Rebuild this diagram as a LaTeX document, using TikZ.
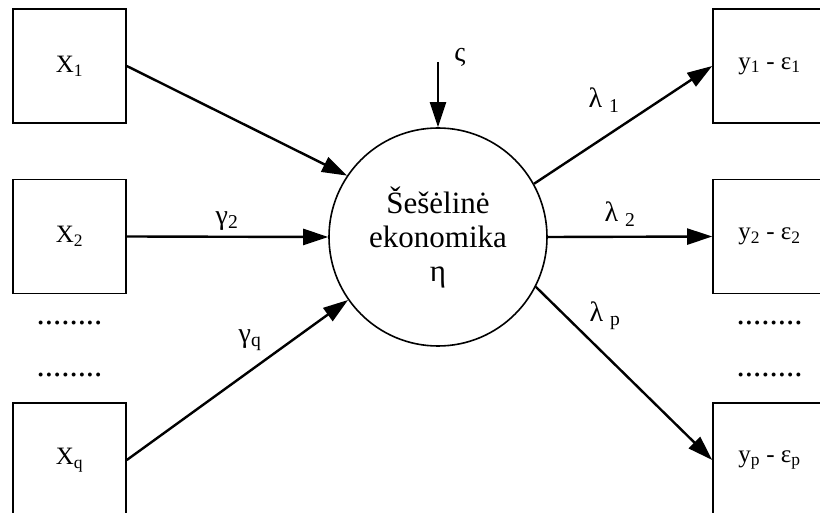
\documentclass[tikz,border=0pt]{standalone}
\usepackage{fontspec}
\setmainfont{Liberation Serif}
\usetikzlibrary{arrows.meta}

\begin{document}
\begin{tikzpicture}[x=1pt,y=-1pt,
  varbox/.style={draw, line width=1.6pt, minimum width=113pt, minimum height=114pt, inner sep=0pt, font=\fontsize{25}{28}\selectfont},
  effect/.style={-{Triangle[length=25pt,width=16pt]}, line width=2.4pt},
  coef/.style={font=\fontsize{28}{30}\selectfont, inner sep=0pt},
  gap/.style={font=\fontsize{33}{36}\selectfont, inner sep=0pt, anchor=base}]
\useasboundingbox (0,0) rectangle (820,513);
\node[varbox] (x1) at (69.5,66) {X\textsubscript{1}};
\node[varbox] (x2) at (69.5,236.5) {X\textsubscript{2}};
\node[varbox] (xq) at (69.5,460) {X\textsubscript{q}};
\node[varbox] (y1) at (769.5,66) {y\textsubscript{1} - ε\textsubscript{1}};
\node[varbox] (y2) at (769.5,236.5) {y\textsubscript{2} - ε\textsubscript{2}};
\node[varbox] (yp) at (769.5,460) {y\textsubscript{p} - ε\textsubscript{p}};
\node[gap] (xdots1) at (69.5,325) {........};
\node[gap] (xdots2) at (69.5,376) {........};
\node[gap] (ydots1) at (769.5,325) {........};
\node[gap] (ydots2) at (769.5,376) {........};
\node[draw, circle, minimum size=218pt, line width=1.6pt, align=center, font=\fontsize{31}{34}\selectfont] (eta) at (438,237) {Šešėlinė\\ekonomika\\η};
\coordinate (zs) at (438,62);
\node[coef] (zeta) at (460,57) {ς};
\draw[effect] (zs) -- (eta.north);
\draw[effect] (x1.east) -- (eta.146);
\draw[effect] (x2.east) -- (eta.west);
\draw[effect] (xq.east) -- (eta.215);
\draw[effect] (eta.29) -- (y1.west);
\draw[effect] (eta.east) -- (y2.west);
\draw[effect] (eta.-27) -- (yp.west);
\node[coef] (g2) at (227,221) {γ\textsubscript{2}};
\node[coef] (gq) at (250,340) {γ\textsubscript{q}};
\node[coef] (l1) at (604,100) {λ \textsubscript{1}};
\node[coef] (l2) at (620,214) {λ \textsubscript{2}};
\node[coef] (lp) at (605,316) {λ \textsubscript{p}};
\end{tikzpicture}
\end{document}
